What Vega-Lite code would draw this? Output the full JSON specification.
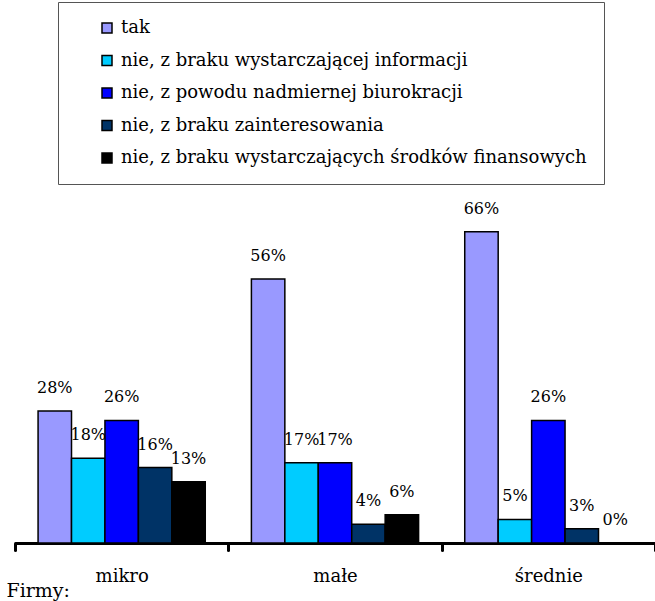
{
  "$schema": "https://vega.github.io/schema/vega-lite/v6.json",
  "width": 640,
  "height": 330,
  "autosize": {"type": "none"},
  "padding": {"left": 15, "top": 213, "right": 0, "bottom": 58},
  "config": {
    "view": {"stroke": null},
    "font": "DejaVu Serif"
  },
  "data": {
    "values": [
      {"firma": "mikro", "odp": "tak", "v": 0.28},
      {"firma": "mikro", "odp": "nie, z braku wystarczającej informacji", "v": 0.18},
      {"firma": "mikro", "odp": "nie, z powodu nadmiernej biurokracji", "v": 0.26},
      {"firma": "mikro", "odp": "nie, z braku zainteresowania", "v": 0.16},
      {"firma": "mikro", "odp": "nie, z braku wystarczających środków finansowych", "v": 0.13},
      {"firma": "małe", "odp": "tak", "v": 0.56},
      {"firma": "małe", "odp": "nie, z braku wystarczającej informacji", "v": 0.17},
      {"firma": "małe", "odp": "nie, z powodu nadmiernej biurokracji", "v": 0.17},
      {"firma": "małe", "odp": "nie, z braku zainteresowania", "v": 0.04},
      {"firma": "małe", "odp": "nie, z braku wystarczających środków finansowych", "v": 0.06},
      {"firma": "średnie", "odp": "tak", "v": 0.66},
      {"firma": "średnie", "odp": "nie, z braku wystarczającej informacji", "v": 0.05},
      {"firma": "średnie", "odp": "nie, z powodu nadmiernej biurokracji", "v": 0.26},
      {"firma": "średnie", "odp": "nie, z braku zainteresowania", "v": 0.03},
      {"firma": "średnie", "odp": "nie, z braku wystarczających środków finansowych", "v": 0.0}
    ]
  },
  "encoding": {
    "x": {
      "field": "firma",
      "type": "nominal",
      "sort": ["mikro", "małe", "średnie"],
      "scale": {"paddingInner": 0, "paddingOuter": 0},
      "axis": {
        "title": "Firmy:",
        "titleX": -9,
        "titleY": 53,
        "titleAlign": "left",
        "titleAnchor": null,
        "titleBaseline": "alphabetic",
        "titleFont": "DejaVu Serif",
        "titleFontSize": 19,
        "titleFontWeight": "normal",
        "titleColor": "black",
        "labelAngle": 0,
        "labelFont": "DejaVu Serif",
        "labelFontSize": 18,
        "labelColor": "black",
        "labelPadding": 17,
        "domainColor": "black",
        "domainWidth": 3,
        "tickColor": "black",
        "tickWidth": 3,
        "tickSize": 7,
        "tickCap": "round",
        "tickBand": "extent"
      }
    },
    "xOffset": {
      "field": "odp",
      "type": "nominal",
      "sort": ["tak", "nie, z braku wystarczającej informacji", "nie, z powodu nadmiernej biurokracji", "nie, z braku zainteresowania", "nie, z braku wystarczających środków finansowych"],
      "scale": {"paddingInner": 0, "paddingOuter": 0.69}
    },
    "y": {
      "field": "v",
      "type": "quantitative",
      "scale": {"domain": [0, 0.7], "nice": false},
      "axis": null
    }
  },
  "layer": [
    {
      "mark": {"type": "bar", "stroke": "black", "strokeWidth": 1.5},
      "encoding": {
        "color": {
          "field": "odp",
          "type": "nominal",
          "sort": ["tak", "nie, z braku wystarczającej informacji", "nie, z powodu nadmiernej biurokracji", "nie, z braku zainteresowania", "nie, z braku wystarczających środków finansowych"],
          "scale": {
            "domain": ["tak", "nie, z braku wystarczającej informacji", "nie, z powodu nadmiernej biurokracji", "nie, z braku zainteresowania", "nie, z braku wystarczających środków finansowych"],
            "range": ["#9999FF", "#00CCFF", "#0000FF", "#003366", "#000000"]
          },
          "legend": {
            "title": null,
            "orient": "none",
            "legendX": 43,
            "legendY": -211,
            "direction": "vertical",
            "padding": 17,
            "strokeColor": "#555555",
            "fillColor": "white",
            "symbolType": "square",
            "symbolSize": 100,
            "symbolStrokeColor": "black",
            "symbolStrokeWidth": 1.5,
            "symbolOpacity": 1,
            "symbolOffset": 23,
            "labelOffset": 5,
            "labelFont": "DejaVu Serif",
            "labelFontSize": 18,
            "labelColor": "black",
            "labelLimit": 600,
            "rowPadding": 14.5
          }
        }
      }
    },
    {
      "mark": {"type": "text", "baseline": "middle", "dy": -23, "fontSize": 16, "font": "DejaVu Serif", "color": "black"},
      "encoding": {
        "text": {"field": "v", "type": "quantitative", "format": ".0%"},
        "color": {"value": "black"}
      }
    }
  ]
}
